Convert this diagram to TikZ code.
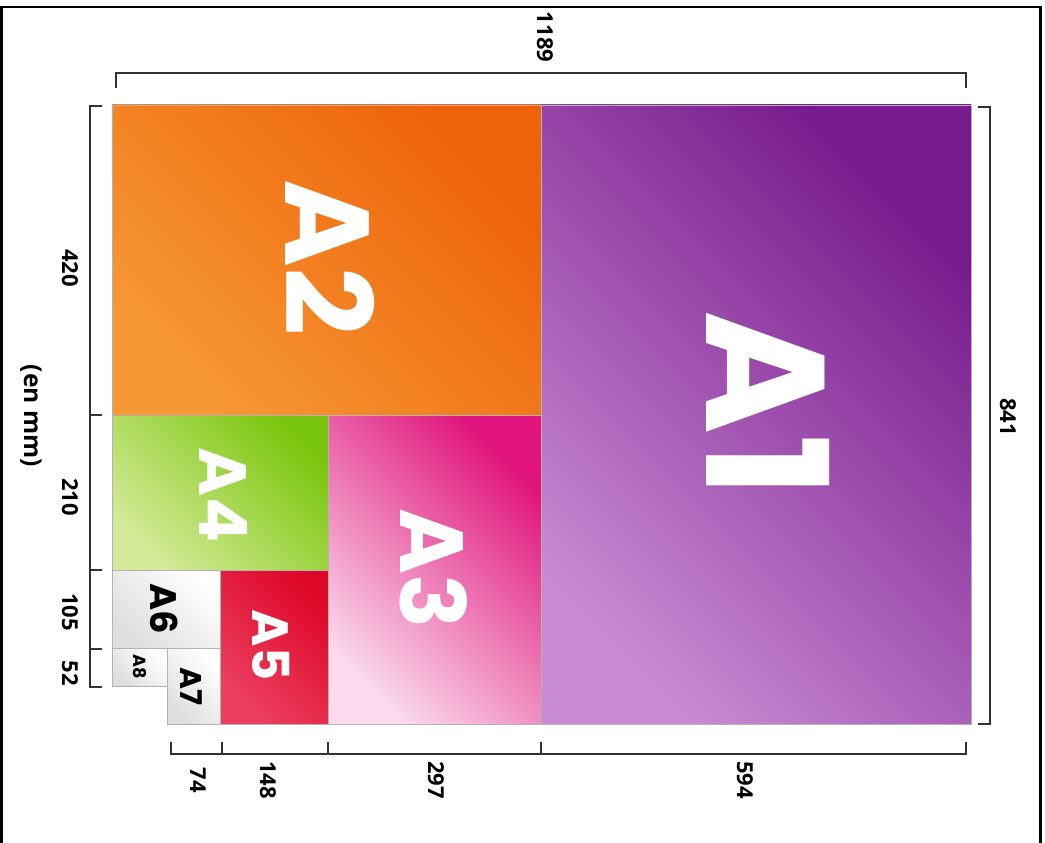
\documentclass[tikz,border=0pt]{standalone}
\usepackage{fontspec}
\newfontfamily\sheetfont{Poppins}
\newfontfamily\dimfont{Open Sans}
\definecolor{aonedark}{RGB}{118,26,140}
\definecolor{aonelight}{RGB}{200,138,210}
\definecolor{atwodark}{RGB}{238,98,10}
\definecolor{atwolight}{RGB}{246,152,52}
\definecolor{athreedark}{RGB}{224,20,124}
\definecolor{athreelight}{RGB}{250,218,236}
\definecolor{afourdark}{RGB}{122,198,14}
\definecolor{afourlight}{RGB}{212,234,152}
\definecolor{afivedark}{RGB}{222,8,40}
\definecolor{afivelight}{RGB}{236,64,98}
\definecolor{asmalldark}{RGB}{255,255,255}
\definecolor{asmalllight}{RGB}{222,222,222}

\begin{document}
\begin{tikzpicture}[
  sheet/.style 2 args={top color=#1,bottom color=#2,shading angle=-45,draw=black!30,line width=0.4pt},
  dimline/.style={draw=black!80,line width=1.1pt},
  sheetlabel/.style={rotate=-90,inner sep=0pt,font=\sheetfont\bfseries\fontsize{#1}{#1}\selectfont},
  dimlabel/.style={rotate=-90,inner sep=0pt,font=\dimfont\bfseries\fontsize{#1}{#1}\selectfont},
  dimlabel/.default=12.5]
\useasboundingbox (0.000,0.000) rectangle (20.900,-16.860);
\draw[black,line width=1.7pt] (0.030,-16.860) -- (0.030,-0.140) -- (20.800,-0.140) -- (20.800,-16.860);
\shadedraw[sheet={aonedark}{aonelight}] (10.820,-2.100) rectangle (19.420,-14.480);
\shadedraw[sheet={atwodark}{atwolight}] (2.240,-2.100) rectangle (10.820,-8.300);
\shadedraw[sheet={athreedark}{athreelight}] (6.560,-8.300) rectangle (10.820,-14.480);
\shadedraw[sheet={afourdark}{afourlight}] (2.240,-8.300) rectangle (6.560,-11.400);
\shadedraw[sheet={afivedark}{afivelight}] (4.400,-11.400) rectangle (6.560,-14.480);
\shadedraw[sheet={asmalldark}{asmalllight}] (2.240,-11.400) rectangle (4.400,-12.960);
\shadedraw[sheet={asmalldark}{asmalllight}] (3.340,-12.960) rectangle (4.400,-14.480);
\shadedraw[sheet={asmalldark}{asmalllight}] (2.240,-12.960) rectangle (3.340,-13.720);
\node[sheetlabel=96,white] (a1) at (15.360,-8.080) {A1};
\node[sheetlabel=68,white] (a2) at (6.600,-5.150) {A2};
\node[sheetlabel=51,white] (a3) at (8.680,-11.380) {A3};
\node[sheetlabel=38,white] (a4) at (4.480,-9.900) {A4};
\node[sheetlabel=29,white] (a5) at (5.420,-12.900) {A5};
\node[sheetlabel=21,black] (a6) at (3.280,-12.170) {A6};
\node[sheetlabel=17,black] (a7) at (3.820,-13.720) {A7};
\node[sheetlabel=10,black] (a8) at (2.790,-13.340) {A8};
\draw[dimline] (2.320,-1.760) -- (2.320,-1.460) -- (19.320,-1.460) -- (19.320,-1.760);
\node[dimlabel] (n1189) at (10.900,-0.740) {1189};
\draw[dimline] (19.560,-2.140) -- (19.800,-2.140) -- (19.800,-14.480) -- (19.560,-14.480);
\node[dimlabel] (n841) at (20.160,-8.340) {841};
\draw[dimline] (2.040,-2.120) -- (1.800,-2.120) -- (1.800,-13.740) -- (2.040,-13.740);
\draw[dimline] (1.800,-8.300) -- (2.040,-8.300);
\draw[dimline] (1.800,-11.400) -- (2.040,-11.400);
\draw[dimline] (1.800,-12.980) -- (2.040,-12.980);
\node[dimlabel] (n420) at (1.400,-5.360) {420};
\node[dimlabel] (n210) at (1.400,-9.940) {210};
\node[dimlabel] (n105) at (1.400,-12.240) {105};
\node[dimlabel] (n52) at (1.400,-13.460) {52};
\node[dimlabel=14] (nunit) at (0.620,-8.320) {(en mm)};
\draw[dimline] (3.420,-14.840) -- (3.420,-15.080) -- (19.320,-15.080) -- (19.320,-14.840);
\draw[dimline] (4.440,-15.080) -- (4.440,-14.840);
\draw[dimline] (6.560,-15.080) -- (6.560,-14.840);
\draw[dimline] (10.820,-15.080) -- (10.820,-14.840);
\node[dimlabel] (n74) at (3.960,-15.600) {74};
\node[dimlabel] (n148) at (5.360,-15.600) {148};
\node[dimlabel] (n297) at (8.720,-15.600) {297};
\node[dimlabel] (n594) at (14.900,-15.600) {594};
\end{tikzpicture}
\end{document}
